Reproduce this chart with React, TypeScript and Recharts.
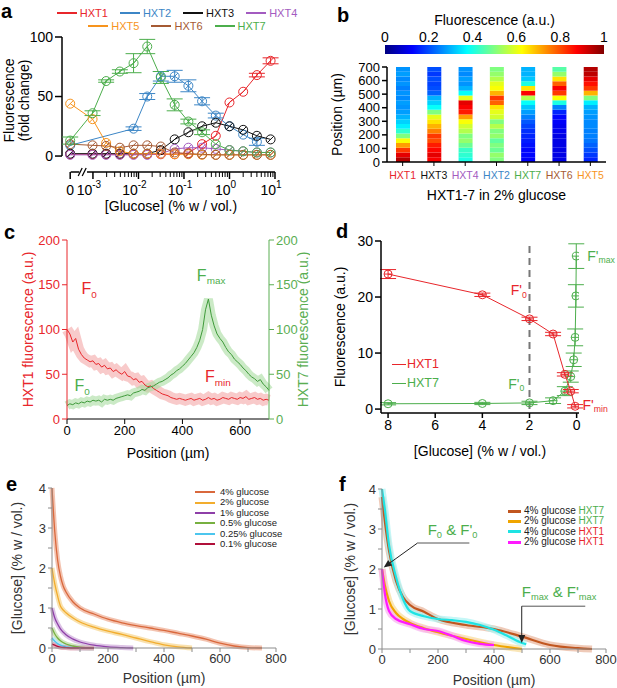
import React from 'react'
import { LineChart, Line, XAxis, YAxis, ReferenceLine, ReferenceDot, ErrorBar, BarChart, Bar, Cell, Label } from 'recharts'

const FONT = '"Liberation Sans", Arial, sans-serif'

// ---------- panel a: fold change vs glucose ----------
const glucoseA = [0, 0.00098, 0.00195, 0.0039, 0.0078, 0.0156, 0.031, 0.0625, 0.125, 0.25, 0.5, 1, 2, 4, 8]
const hxt1A = [1.5, 1.5, 1.5, 1.5, 1.5, 1.5, 1.5, 1.5, 2.5, 10, 17, 45, 54, 68, 80]
const hxt2A = [9, null, null, null, 23, 50, 67, 67, 59, 46, 34, 25, 18, 12, null]
const hxt3A = [2, 2, 2, 2, 2, 2, 5, 14, 20, 25, 28, 25, 22, 17, 14]
const hxt4A = [1, 1, 1, 1, 1, 1, 2, 6, 7, 7, 6, 5, 4, 3, 3]
const hxt5A = [44, 31, 11, 4, 2, 2, 2, 1.5, 1.5, 1, 1, 1, 1, 1, 1]
const hxt6A = [10, 9, 8.5, 7, 9, 9, 8, 3, 2, 1.5, 1, 1, 1, 1, 1]
const hxt7A = [13, 36, 63, 71, 78, 92, 66, 43, 29, 20, 10, 5, 4, 3, 3]
const err1A = [null, null, null, null, null, null, null, null, null, null, null, null, null, 1.5, 2.5]
const err2A = [null, null, null, null, 1.5, 2.5, 4, 5, 5, 3, 2, null, null, 3, null]
const err7A = [3, 2, 1, 1.5, 8, 6, 5, 5, 2, 2, null, null, null, null, null]
const none = glucoseA.map(() => null)

const ZERO_AT = Math.pow(10, -3.5)

const seriesA = [
  { key: 'hxt1', name: 'HXT1', color: '#e8262b', vals: hxt1A, errs: err1A },
  { key: 'hxt2', name: 'HXT2', color: '#3c86c6', vals: hxt2A, errs: err2A },
  { key: 'hxt3', name: 'HXT3', color: '#111111', vals: hxt3A, errs: none },
  { key: 'hxt4', name: 'HXT4', color: '#a35bc0', vals: hxt4A, errs: none },
  { key: 'hxt5', name: 'HXT5', color: '#f7941d', vals: hxt5A, errs: none },
  { key: 'hxt6', name: 'HXT6', color: '#a55a33', vals: hxt6A, errs: none },
  { key: 'hxt7', name: 'HXT7', color: '#4cae4c', vals: hxt7A, errs: err7A },
]

const rowsA = glucoseA.map((g, i) => {
  const row: any = { g: g === 0 ? ZERO_AT : g }
  seriesA.forEach(s => {
    row[s.key] = s.vals[i]
    row[s.key + 'e'] = s.errs[i]
  })
  return row
})

const ticksA = [ZERO_AT]
for (let d = -3; d <= 0; d++) for (let k = 1; k <= 9; k++) ticksA.push(k * Math.pow(10, d))
ticksA.push(10)

// ---------- panel b: heat map, bins of 35 um from bottom to top ----------
const BIN = 35
const hxt1B = [0.95, 0.9, 0.82, 0.72, 0.62, 0.5, 0.42, 0.36, 0.33, 0.3, 0.28, 0.27, 0.28, 0.26, 0.27, 0.25, 0.27, 0.26, 0.28, 0.27]
const hxt3B = [0.88, 0.9, 0.87, 0.85, 0.8, 0.82, 0.75, 0.7, 0.65, 0.6, 0.5, 0.38, 0.33, 0.3, 0.22, 0.2, 0.19, 0.2, 0.18, 0.2]
const hxt4B = [0.4, 0.42, 0.43, 0.48, 0.52, 0.5, 0.55, 0.58, 0.62, 0.72, 0.85, 0.88, 0.9, 0.6, 0.38, 0.3, 0.27, 0.28, 0.26, 0.27]
const hxt2B = [0.5, 0.52, 0.48, 0.5, 0.47, 0.52, 0.5, 0.55, 0.5, 0.58, 0.6, 0.65, 0.78, 0.82, 0.7, 0.62, 0.6, 0.55, 0.52, 0.5]
const hxt7B = [0.12, 0.13, 0.13, 0.14, 0.15, 0.16, 0.17, 0.19, 0.21, 0.25, 0.28, 0.32, 0.38, 0.55, 0.88, 0.65, 0.4, 0.32, 0.3, 0.3]
const hxt6B = [0.1, 0.1, 0.1, 0.1, 0.1, 0.1, 0.11, 0.11, 0.12, 0.13, 0.16, 0.25, 0.4, 0.62, 0.82, 0.88, 0.78, 0.65, 0.52, 0.46]
const hxt5B = [0.16, 0.18, 0.2, 0.22, 0.24, 0.25, 0.25, 0.26, 0.26, 0.27, 0.28, 0.3, 0.36, 0.5, 0.7, 0.82, 0.86, 0.9, 0.94, 0.95]

const heatCols = [
  { name: 'HXT1', color: '#e8262b', vals: hxt1B },
  { name: 'HXT3', color: '#111111', vals: hxt3B },
  { name: 'HXT4', color: '#a35bc0', vals: hxt4B },
  { name: 'HXT2', color: '#3c86c6', vals: hxt2B },
  { name: 'HXT7', color: '#4cae4c', vals: hxt7B },
  { name: 'HXT6', color: '#a55a33', vals: hxt6B },
  { name: 'HXT5', color: '#f7941d', vals: hxt5B },
]
const binKeys = hxt1B.map((_, i) => 'b' + i)
const heatRows = heatCols.map(c => {
  const row: any = { name: c.name }
  binKeys.forEach(k => (row[k] = BIN))
  return row
})

const jet = (v: number) => {
  const c = (t: number) => Math.round(255 * Math.max(0, Math.min(1, t)))
  return `rgb(${c(1.5 - Math.abs(4 * v - 3))},${c(1.5 - Math.abs(4 * v - 2))},${c(1.5 - Math.abs(4 * v - 1))})`
}
const jetStops = [0, 0.125, 0.25, 0.375, 0.5, 0.625, 0.75, 0.875, 1]

// ---------- panel c: profiles along channel ----------
const posC = [0, 10, 20, 30, 40, 50, 60, 70, 80, 90, 100, 110, 120, 130, 140, 150, 160, 170, 180, 190, 200, 210, 220, 230, 240, 250, 260, 270, 280, 290, 300, 310, 320, 330, 340, 350, 360, 370, 380, 390, 400, 410, 420, 430, 440, 450, 460, 470, 480, 490, 500, 510, 520, 530, 540, 550, 560, 570, 580, 590, 600, 610, 620, 630, 640, 650, 660, 670, 680, 690, 700]
const hxt1C = [100, 95, 86, 90, 78, 72, 68, 66, 64, 65, 61, 62, 58, 60, 56, 57, 53, 55, 52, 50, 53, 48, 47, 44, 45, 41, 42, 38, 36, 37, 34, 32, 30, 28, 27, 26, 24, 23, 22, 23, 22, 21, 22, 23, 21, 22, 23, 21, 22, 24, 22, 23, 21, 22, 24, 23, 22, 24, 23, 22, 24, 23, 25, 22, 23, 24, 22, 23, 21, 22, 21]
const hxt7C = [15, 17, 16, 18, 17, 19, 18, 20, 19, 21, 20, 21, 19, 22, 21, 22, 21, 23, 24, 25, 26, 27, 26, 29, 30, 31, 33, 32, 35, 36, 37, 39, 41, 42, 44, 46, 49, 51, 54, 56, 59, 62, 66, 70, 74, 80, 88, 100, 122, 134, 116, 104, 95, 90, 86, 80, 75, 72, 67, 64, 61, 57, 54, 50, 47, 45, 42, 44, 39, 36, 32]
const rowsC = posC.map((p, i) => ({ p, h1: hxt1C[i], h7: hxt7C[i] }))

// ---------- panel d: fluorescence vs glucose ----------
const glucoseD1 = [8, 4, 2, 1, 0.5, 0.25, 0.0625]
const hxt1D = [24.1, 20.4, 16.1, 13.4, 6.2, 3.2, 0.5]
const err1D = [0.8, 0.3, 0.3, 0.3, 0.3, 0.3, 0.3]
const glucoseD7 = [8, 4, 2, 1, 0.5, 0.25, 0.125, 0.0625, 0.031, 0.0156]
const hxt7D = [0.95, 1.0, 1.1, 1.5, 3.2, 5.8, 8.8, 12.8, 20.2, 27.3]
const err7D = [0.2, 0.2, 0.3, 0.5, 0.8, 1, 1.2, 1.5, 2, 2.2]
const rowsD1 = glucoseD1.map((g, i) => ({ g, v: hxt1D[i], e: err1D[i] }))
const rowsD7 = glucoseD7.map((g, i) => ({ g, v: hxt7D[i], e: err7D[i] }))

// ---------- panel e: glucose gradients ----------
const posE4 = [0, 10, 20, 30, 40, 50, 75, 100, 150, 200, 250, 300, 350, 400, 450, 500, 550, 600, 650, 700, 750]
const glu4E = [4.0, 2.9, 2.2, 1.8, 1.55, 1.4, 1.15, 1.0, 0.85, 0.72, 0.63, 0.56, 0.5, 0.44, 0.37, 0.3, 0.22, 0.12, 0.05, 0.01, 0]
const posE2 = [0, 10, 20, 30, 40, 50, 75, 100, 150, 200, 250, 300, 350, 400, 450, 500]
const glu2E = [2.0, 1.6, 1.3, 1.05, 0.95, 0.88, 0.75, 0.65, 0.52, 0.42, 0.34, 0.25, 0.16, 0.08, 0.03, 0]
const posE1 = [0, 10, 20, 30, 50, 75, 100, 150, 200, 250, 290]
const glu1E = [1.0, 0.75, 0.6, 0.48, 0.33, 0.22, 0.15, 0.07, 0.03, 0.01, 0]
const posEs = [0, 10, 20, 30, 50, 75, 100, 150]
const glu05E = [0.5, 0.35, 0.25, 0.18, 0.1, 0.05, 0.02, 0]
const glu025E = [0.25, 0.17, 0.11, 0.07, 0.03, 0.01, 0, 0]
const glu01E = [0.1, 0.07, 0.04, 0.02, 0.01, 0, 0, 0]

const curvesE = [
  { name: '4% glucose', color: '#d9683c', band: '#f0b49c', pos: posE4, vals: glu4E },
  { name: '2% glucose', color: '#f2ad2e', band: '#f8d99a', pos: posE2, vals: glu2E },
  { name: '1% glucose', color: '#8e3fa8', band: '#d3b4de', pos: posE1, vals: glu1E },
  { name: '0.5% glucose', color: '#77b040', band: '#c6e0ac', pos: posEs, vals: glu05E },
  { name: '0.25% glucose', color: '#4cc6ee', band: '#b4e6f8', pos: posEs, vals: glu025E },
  { name: '0.1% glucose', color: '#b0103a', band: '#e0a0b0', pos: posEs, vals: glu01E },
]

// ---------- panel f: glucose at reporter positions ----------
const posF47 = [0, 10, 25, 50, 75, 100, 150, 200, 300, 400, 500, 600, 700, 750]
const gluF47 = [3.8, 3.2, 2.46, 1.7, 1.3, 1.1, 0.93, 0.75, 0.6, 0.5, 0.31, 0.1, 0.02, 0]
const posF27 = [0, 10, 25, 50, 75, 100, 150, 200, 300, 400, 500]
const gluF27 = [2.0, 1.6, 1.2, 0.9, 0.75, 0.65, 0.52, 0.42, 0.25, 0.1, 0]
const posF41 = [0, 10, 25, 50, 75, 100, 150, 200, 250, 300, 350, 400, 450, 500, 515]
const gluF41 = [4.0, 3.5, 2.6, 1.8, 1.25, 0.95, 0.82, 0.75, 0.72, 0.68, 0.6, 0.48, 0.32, 0.15, 0.12]
const posF21 = [0, 10, 25, 50, 100, 150, 200, 250, 300, 350, 400]
const gluF21 = [2.0, 1.4, 0.95, 0.75, 0.62, 0.5, 0.45, 0.33, 0.2, 0.13, 0.1]

const curvesF = [
  { name: '4% glucose', tag: 'HXT7', tagColor: '#4cae4c', color: '#c1561f', band: '#e8b49a', pos: posF47, vals: gluF47 },
  { name: '2% glucose', tag: 'HXT7', tagColor: '#4cae4c', color: '#f0a500', band: '#f8dc99', pos: posF27, vals: gluF27 },
  { name: '4% glucose', tag: 'HXT1', tagColor: '#e8262b', color: '#1ee3e3', band: '#aef3f3', pos: posF41, vals: gluF41 },
  { name: '2% glucose', tag: 'HXT1', tagColor: '#e8262b', color: '#ff1aff', band: '#f8b0f0', pos: posF21, vals: gluF21 },
]

// ---------- helpers ----------
const SlashDot = (color: string) => (p: any) => {
  const { cx, cy, value, index } = p
  if (cx == null || cy == null || value == null) return <g key={'n' + index} />
  return (
    <g key={'d' + index}>
      <circle cx={cx} cy={cy} r={4.5} fill="none" stroke={color} strokeWidth={1} />
      <line x1={cx - 3.2} y1={cy + 3.2} x2={cx + 3.2} y2={cy - 3.2} stroke={color} strokeWidth={1} />
    </g>
  )
}

const OpenDot = (color: string) => (p: any) => {
  const { cx, cy, index } = p
  if (cx == null || cy == null) return <g key={'n' + index} />
  return (
    <g key={'d' + index}>
      <circle cx={cx} cy={cy} r={4} fill="none" stroke={color} strokeWidth={1} />
      <line x1={cx - 4} y1={cy} x2={cx + 4} y2={cy} stroke={color} strokeWidth={1} />
    </g>
  )
}

type Part = { t: string; sub?: boolean }
const richText = (parts: Part[], color: string, size: number, anchor = 'start') => (p: any) => {
  const d = size * 0.3
  let down = false
  return (
    <text x={p.cx} y={p.cy} fill={color} fontSize={size} textAnchor={anchor} dominantBaseline="middle" fontFamily={FONT}>
      {parts.map((pt, i) => {
        let dy = 0
        if (pt.sub && !down) { dy = d; down = true }
        else if (!pt.sub && down) { dy = -d; down = false }
        return (
          <tspan key={i} dy={dy} fontSize={pt.sub ? size * 0.62 : size}>{pt.t}</tspan>
        )
      })}
    </text>
  )
}

const Arrow = (color: string) => (p: any) => {
  const { x1, y1, x2, y2 } = p
  const a = Math.atan2(y2 - y1, x2 - x1)
  const L = 8
  const W = 3.5
  const bx = x2 - L * Math.cos(a)
  const by = y2 - L * Math.sin(a)
  const pts = `${x2},${y2} ${bx - W * Math.sin(a)},${by + W * Math.cos(a)} ${bx + W * Math.sin(a)},${by - W * Math.cos(a)}`
  return (
    <g>
      <line x1={x1} y1={y1} x2={bx} y2={by} stroke={color} strokeWidth={1} />
      <polygon points={pts} fill={color} />
    </g>
  )
}

const LogTick = (p: any) => {
  const { x, y, payload } = p
  const v = payload.value
  if (v === ZERO_AT) {
    return (
      <g>
        <line x1={x} y1={y} x2={x} y2={y + 7} stroke="#000" strokeWidth={1.5} />
        <line x1={x + 8} y1={y + 4} x2={x + 12} y2={y - 4} stroke="#000" strokeWidth={1.2} />
        <line x1={x + 12} y1={y + 4} x2={x + 16} y2={y - 4} stroke="#000" strokeWidth={1.2} />
        <text x={x} y={y + 23} textAnchor="middle" fontSize={14} fill="#000">0</text>
      </g>
    )
  }
  const lg = Math.log10(v)
  const e = Math.round(lg)
  if (Math.abs(lg - e) > 1e-6) {
    return <line x1={x} y1={y} x2={x} y2={y + 5} stroke="#000" strokeWidth={1} />
  }
  return (
    <g>
      <line x1={x} y1={y} x2={x} y2={y + 7} stroke="#000" strokeWidth={1.5} />
      <text x={x - 4} y={y + 23} textAnchor="middle" fontSize={14} fill="#000">
        10<tspan dy={-7} fontSize={10}>{e}</tspan>
      </text>
    </g>
  )
}

const HeatTick = (p: any) => {
  const { x, y, payload } = p
  const col = heatCols.find(c => c.name === payload.value)
  return (
    <text x={x} y={y + 11} textAnchor="middle" fontSize={10.5} fill={col ? col.color : '#000'}>{payload.value}</text>
  )
}

const TwoLineY = (props: any) => {
  const vb = props.viewBox
  const cy = vb.y + vb.height / 2 - 4
  return (
    <g>
      <text transform={`translate(${vb.x - 7},${cy}) rotate(-90)`} textAnchor="middle" dominantBaseline="middle" fontSize={14} fill="#000">Fluorescence</text>
      <text transform={`translate(${vb.x + 8},${cy}) rotate(-90)`} textAnchor="middle" dominantBaseline="middle" fontSize={14} fill="#000">(fold change)</text>
    </g>
  )
}

const Letter = ({ ch, x, y }: { ch: string; x: number; y: number }) => (
  <div style={{ position: 'absolute', left: x, top: y, fontSize: 20, fontWeight: 'bold', lineHeight: '22px' }}>{ch}</div>
)

const abs = (left: number, top: number): React.CSSProperties => ({ position: 'absolute', left, top })

export default function App() {
  const greyAxis = '#8c8c8c'
  return (
    <div style={{ position: 'absolute', left: 0, top: 0, width: 617, height: 688, background: '#fff', fontFamily: FONT, overflow: 'hidden' }}>
      {/* ---------- a ---------- */}
      <div style={abs(0, 0)}>
        <LineChart width={300} height={215} data={rowsA} margin={{ top: 37, right: 20, bottom: 3, left: 17 }}>
          <XAxis dataKey="g" type="number" scale="log" domain={[Math.pow(10, -3.68), Math.pow(10, 1.11)]} allowDataOverflow
            ticks={ticksA} interval={0} tick={LogTick} tickLine={false} axisLine={false} tickSize={0} tickMargin={0} height={40}>
            <Label value="[Glucose] (% w / vol.)" position="insideBottom" offset={1} style={{ fontSize: 14, fill: '#000' }} />
          </XAxis>
          <YAxis type="number" domain={[-13.4, 100]} ticks={[0, 50, 100]} interval={0} width={45} axisLine={false}
            tickLine={{ stroke: '#000', strokeWidth: 1.5 }} tickSize={7} tick={{ fontSize: 14, fill: '#000' }}>
            <Label content={TwoLineY} />
          </YAxis>
          <ReferenceLine segment={[{ x: Math.pow(10, -3.68), y: 0 }, { x: Math.pow(10, -3.68), y: 100 }]} stroke="#000" strokeWidth={1.5} ifOverflow="visible" />
          <ReferenceLine segment={[{ x: Math.pow(10, -3.49), y: -13.4 }, { x: Math.pow(10, -3.3), y: -13.4 }]} stroke="#000" strokeWidth={1.5} ifOverflow="visible" />
          <ReferenceLine segment={[{ x: Math.pow(10, -3.13), y: -13.4 }, { x: 10, y: -13.4 }]} stroke="#000" strokeWidth={1.5} ifOverflow="visible" />
          {seriesA.map(s => (
            <Line key={s.key} dataKey={s.key} stroke={s.color} strokeWidth={1} connectNulls isAnimationActive={false} dot={SlashDot(s.color)}>
              <ErrorBar dataKey={s.key + 'e'} direction="y" width={8} stroke={s.color} strokeWidth={1} />
            </Line>
          ))}
        </LineChart>
        <div style={{ position: 'absolute', left: 52, top: 6, width: 250, fontSize: 11 }}>
          {[seriesA.slice(0, 4), seriesA.slice(4)].map((row, ri) => (
            <div key={ri} style={{ display: 'flex', justifyContent: 'center', gap: 12, height: 13, alignItems: 'center' }}>
              {row.map(s => (
                <div key={s.key} style={{ display: 'flex', alignItems: 'center', color: s.color }}>
                  <div style={{ width: 20, height: 2, background: s.color, marginRight: 3 }} />
                  {s.name}
                </div>
              ))}
            </div>
          ))}
        </div>
      </div>
      <Letter ch="a" x={1} y={0} />

      {/* ---------- b: colour bar ---------- */}
      <div style={abs(300, 10)}>
        <BarChart width={317} height={45} layout="vertical" data={[{ name: 'scale', v: 1 }]} barCategoryGap={0}
          margin={{ top: 5, right: 13, bottom: 1, left: 85 }}>
          <defs>
            <linearGradient id="jetGrad" x1="0" y1="0" x2="1" y2="0">
              {jetStops.map(s => <stop key={s} offset={s} stopColor={jet(s)} />)}
            </linearGradient>
          </defs>
          <XAxis type="number" orientation="top" domain={[0, 1]} ticks={[0, 0.2, 0.4, 0.6, 0.8, 1]} interval={0} height={30}
            axisLine={false} tickLine={false} tickSize={0} tickMargin={3} tick={{ fontSize: 14, fill: '#000' }}>
            <Label value="Fluorescence (a.u.)" position="insideTop" offset={0} style={{ fontSize: 14, fill: '#000' }} />
          </XAxis>
          <YAxis type="category" dataKey="name" hide />
          <Bar dataKey="v" fill="url(#jetGrad)" isAnimationActive={false} />
        </BarChart>
      </div>

      {/* ---------- b: heat map ---------- */}
      <div style={abs(300, 50)}>
        <BarChart width={317} height={155} data={heatRows} margin={{ top: 17, right: 11, bottom: 3, left: 37 }}>
          <XAxis dataKey="name" height={40} tick={HeatTick} tickLine={{ stroke: '#000' }} tickSize={4}
            axisLine={{ stroke: '#000', strokeWidth: 1.5 }} interval={0}>
            <Label value="HXT1-7 in 2% glucose" position="insideBottom" offset={2} style={{ fontSize: 14, fill: '#000' }} />
          </XAxis>
          <YAxis type="number" domain={[0, 700]} ticks={[0, 100, 200, 300, 400, 500, 600, 700]} interval={0} width={50}
            axisLine={{ stroke: '#000', strokeWidth: 1.5 }} tickLine={{ stroke: '#000', strokeWidth: 1.5 }} tickSize={5}
            tick={{ fontSize: 13, fill: '#000' }}>
            <Label value="Position (µm)" angle={-90} position="insideLeft" offset={0} style={{ fontSize: 14, fill: '#000', textAnchor: 'middle' }} />
          </YAxis>
          {binKeys.map((k, i) => (
            <Bar key={k} dataKey={k} stackId="heat" barSize={14} isAnimationActive={false}>
              {heatCols.map(c => <Cell key={c.name} fill={jet(c.vals[i])} />)}
            </Bar>
          ))}
        </BarChart>
      </div>
      <Letter ch="b" x={337} y={4} />

      {/* ---------- c ---------- */}
      <div style={abs(0, 225)}>
        <LineChart width={310} height={240} data={rowsC} margin={{ top: 15, right: 1, bottom: 6, left: 17 }}>
          <XAxis dataKey="p" type="number" domain={[0, 700]} ticks={[0, 200, 400, 600]} interval={0} height={40}
            axisLine={{ stroke: '#000' }} tickLine={{ stroke: '#000' }} tickSize={5} tick={{ fontSize: 13, fill: '#000' }}>
            <Label value="Position (µm)" position="insideBottom" offset={1} style={{ fontSize: 14, fill: '#000' }} />
          </XAxis>
          <YAxis yAxisId="l" domain={[0, 200]} ticks={[0, 50, 100, 150, 200]} interval={0} width={50}
            axisLine={{ stroke: '#e8262b' }} tickLine={{ stroke: '#e8262b' }} tickSize={5} tick={{ fontSize: 13, fill: '#e8262b' }}>
            <Label value="HXT1 fluorescence (a.u.)" angle={-90} position="insideLeft" offset={11} style={{ fontSize: 14, fill: '#e8262b', textAnchor: 'middle' }} />
          </YAxis>
          <YAxis yAxisId="r" orientation="right" domain={[0, 200]} ticks={[0, 50, 100, 150, 200]} interval={0} width={40}
            axisLine={{ stroke: '#5aae52' }} tickLine={{ stroke: '#5aae52' }} tickSize={5} tick={{ fontSize: 13, fill: '#5aae52' }}>
            <Label value="HXT7 fluorescence (a.u.)" angle={-90} position="insideRight" offset={6} style={{ fontSize: 14, fill: '#5aae52', textAnchor: 'middle' }} />
          </YAxis>
          <Line yAxisId="l" dataKey="h1" stroke="#f4a6a6" strokeOpacity={0.6} strokeWidth={11} dot={false} isAnimationActive={false} />
          <Line yAxisId="r" dataKey="h7" stroke="#a8dca0" strokeOpacity={0.6} strokeWidth={9} dot={false} isAnimationActive={false} />
          <Line yAxisId="l" dataKey="h1" stroke="#e8262b" strokeWidth={1} dot={false} isAnimationActive={false} />
          <Line yAxisId="r" dataKey="h7" stroke="#3f9a3a" strokeWidth={1} dot={false} isAnimationActive={false} />
          <ReferenceDot yAxisId="l" x={50} y={144} r={0} ifOverflow="visible" shape={richText([{ t: 'F' }, { t: '0', sub: true }], '#e8262b', 16)} />
          <ReferenceDot yAxisId="l" x={478} y={46} r={0} ifOverflow="visible" shape={richText([{ t: 'F' }, { t: 'min', sub: true }], '#e8262b', 16)} />
          <ReferenceDot yAxisId="r" x={450} y={159} r={0} ifOverflow="visible" shape={richText([{ t: 'F' }, { t: 'max', sub: true }], '#4cae4c', 16)} />
          <ReferenceDot yAxisId="r" x={26} y={36} r={0} ifOverflow="visible" shape={richText([{ t: 'F' }, { t: '0', sub: true }], '#4cae4c', 16)} />
        </LineChart>
      </div>
      <Letter ch="c" x={4} y={221} />

      {/* ---------- d ---------- */}
      <div style={abs(300, 225)}>
        <LineChart width={317} height={240} margin={{ top: 16, right: 38, bottom: 12, left: 36 }}>
          <XAxis dataKey="g" type="number" reversed domain={[-0.1, 8.3]} ticks={[0, 2, 4, 6, 8]} interval={0} height={40}
            axisLine={{ stroke: '#000', strokeWidth: 1.5 }} tickLine={{ stroke: '#000', strokeWidth: 1.5 }} tickSize={5}
            tick={{ fontSize: 14, fill: '#000' }} allowDataOverflow>
            <Label value="[Glucose] (% w / vol.)" position="insideBottom" offset={-3} style={{ fontSize: 14, fill: '#000' }} />
          </XAxis>
          <YAxis type="number" domain={[-0.7, 30]} ticks={[0, 10, 20, 30]} interval={0} width={45}
            axisLine={{ stroke: '#000', strokeWidth: 1.5 }} tickLine={{ stroke: '#000', strokeWidth: 1.5 }} tickSize={6}
            tick={{ fontSize: 14, fill: '#000' }}>
            <Label value="Fluorescence (a.u.)" angle={-90} position="insideLeft" offset={4} style={{ fontSize: 14, fill: '#000', textAnchor: 'middle' }} />
          </YAxis>
          <ReferenceLine segment={[{ x: 2, y: 0 }, { x: 2, y: 30 }]} stroke="#777" strokeWidth={2} strokeDasharray="7 5" />
          <Line data={rowsD7} dataKey="v" stroke="#4cae4c" strokeWidth={1} dot={OpenDot('#4cae4c')} isAnimationActive={false}>
            <ErrorBar dataKey="e" direction="y" width={8} stroke="#4cae4c" strokeWidth={1} />
          </Line>
          <Line data={rowsD1} dataKey="v" stroke="#e8262b" strokeWidth={1} dot={OpenDot('#e8262b')} isAnimationActive={false}>
            <ErrorBar dataKey="e" direction="y" width={8} stroke="#e8262b" strokeWidth={1} />
          </Line>
          <ReferenceDot x={2.8} y={21} r={0} ifOverflow="visible" shape={richText([{ t: "F'" }, { t: '0', sub: true }], '#e8262b', 14)} />
          <ReferenceDot x={2.9} y={4.3} r={0} ifOverflow="visible" shape={richText([{ t: "F'" }, { t: '0', sub: true }], '#4cae4c', 14)} />
          <ReferenceDot x={-0.45} y={27.2} r={0} ifOverflow="visible" shape={richText([{ t: "F'" }, { t: 'max', sub: true }], '#4cae4c', 14)} />
          <ReferenceDot x={-0.25} y={0.6} r={0} ifOverflow="visible" shape={richText([{ t: "F'" }, { t: 'min', sub: true }], '#e8262b', 14)} />
        </LineChart>
        <div style={{ position: 'absolute', left: 92, top: 130, fontSize: 12.5, lineHeight: '19px' }}>
          {[{ n: 'HXT1', c: '#e8262b' }, { n: 'HXT7', c: '#4cae4c' }].map(s => (
            <div key={s.n} style={{ display: 'flex', alignItems: 'center', color: s.c }}>
              <div style={{ width: 14, height: 1.5, background: s.c, marginRight: 1 }} />
              {s.n}
            </div>
          ))}
        </div>
      </div>
      <Letter ch="d" x={336} y={220} />

      {/* ---------- e ---------- */}
      <div style={abs(0, 470)}>
        <LineChart width={310} height={218} margin={{ top: 18, right: 34, bottom: 4, left: 12 }}>
          <XAxis dataKey="x" type="number" domain={[0, 800]} ticks={[0, 100, 200, 300, 400, 500, 600, 700, 800]} interval={0}
            tickFormatter={(v: number) => (v % 200 === 0 ? String(v) : '')} height={36}
            axisLine={{ stroke: greyAxis }} tickLine={{ stroke: greyAxis }} tickSize={4} tick={{ fontSize: 13, fill: '#333' }}>
            <Label value="Position (µm)" position="insideBottom" offset={1} style={{ fontSize: 14, fill: '#333' }} />
          </XAxis>
          <YAxis type="number" domain={[0, 4]} ticks={[0, 0.5, 1, 1.5, 2, 2.5, 3, 3.5, 4]} interval={0}
            tickFormatter={(v: number) => (Number.isInteger(v) ? String(v) : '')} width={40}
            axisLine={{ stroke: greyAxis }} tickLine={{ stroke: greyAxis }} tickSize={4} tick={{ fontSize: 13, fill: '#333' }}>
            <Label value="[Glucose] (% w / vol.)" angle={-90} position="insideLeft" offset={5} style={{ fontSize: 14, fill: '#333', textAnchor: 'middle' }} />
          </YAxis>
          {curvesE.map(c => (
            <Line key={c.name + 'band'} data={c.pos.map((x, i) => ({ x, y: c.vals[i] }))} dataKey="y" type="monotone"
              stroke={c.band} strokeWidth={5} strokeOpacity={0.8} dot={false} isAnimationActive={false} />
          ))}
          {curvesE.map(c => (
            <Line key={c.name} data={c.pos.map((x, i) => ({ x, y: c.vals[i] }))} dataKey="y" type="monotone"
              stroke={c.color} strokeWidth={1.3} dot={false} isAnimationActive={false} />
          ))}
        </LineChart>
        <div style={{ position: 'absolute', left: 195, top: 17, fontSize: 9.5, lineHeight: '10.4px', color: '#222' }}>
          {curvesE.map(c => (
            <div key={c.name} style={{ display: 'flex', alignItems: 'center', height: 10.4 }}>
              <div style={{ width: 20, height: 2, background: c.color, marginRight: 5 }} />
              {c.name}
            </div>
          ))}
        </div>
      </div>
      <Letter ch="e" x={6} y={473} />

      {/* ---------- f ---------- */}
      <div style={abs(310, 470)}>
        <LineChart width={307} height={218} margin={{ top: 19, right: 11, bottom: 3, left: 32 }}>
          <XAxis dataKey="x" type="number" domain={[0, 800]} ticks={[0, 100, 200, 300, 400, 500, 600, 700, 800]} interval={0}
            tickFormatter={(v: number) => (v % 200 === 0 ? String(v) : '')} height={36}
            axisLine={{ stroke: greyAxis }} tickLine={{ stroke: greyAxis }} tickSize={4} tick={{ fontSize: 13, fill: '#333' }}>
            <Label value="Position (µm)" position="insideBottom" offset={0} style={{ fontSize: 14, fill: '#333' }} />
          </XAxis>
          <YAxis type="number" domain={[0, 4]} ticks={[0, 0.5, 1, 1.5, 2, 2.5, 3, 3.5, 4]} interval={0}
            tickFormatter={(v: number) => (Number.isInteger(v) ? String(v) : '')} width={40}
            axisLine={{ stroke: greyAxis }} tickLine={{ stroke: greyAxis }} tickSize={4} tick={{ fontSize: 13, fill: '#333' }}>
            <Label value="[Glucose] (% w / vol.)" angle={-90} position="insideLeft" offset={8} style={{ fontSize: 14, fill: '#333', textAnchor: 'middle' }} />
          </YAxis>
          {curvesF.map((c, i) => (
            <Line key={'band' + i} data={c.pos.map((x, j) => ({ x, y: c.vals[j] }))} dataKey="y" type="monotone"
              stroke={c.band} strokeWidth={7} strokeOpacity={0.7} dot={false} isAnimationActive={false} />
          ))}
          {curvesF.map((c, i) => (
            <Line key={'line' + i} data={c.pos.map((x, j) => ({ x, y: c.vals[j] }))} dataKey="y" type="monotone"
              stroke={c.color} strokeWidth={2.2} dot={false} isAnimationActive={false} />
          ))}
          <ReferenceLine segment={[{ x: 127, y: 2.65 }, { x: 312, y: 2.65 }]} stroke="#555" strokeWidth={1} />
          <ReferenceLine segment={[{ x: 127, y: 2.65 }, { x: 6, y: 2.04 }]} shape={Arrow('#222')} />
          <ReferenceLine segment={[{ x: 499, y: 1.07 }, { x: 726, y: 1.07 }]} stroke="#555" strokeWidth={1} />
          <ReferenceLine segment={[{ x: 499, y: 1.07 }, { x: 499, y: 0.15 }]} shape={Arrow('#222')} />
          <ReferenceDot x={163} y={2.95} r={0} ifOverflow="visible"
            shape={richText([{ t: 'F' }, { t: '0', sub: true }, { t: " & F'" }, { t: '0', sub: true }], '#4cae4c', 15)} />
          <ReferenceDot x={499} y={1.4} r={0} ifOverflow="visible"
            shape={richText([{ t: 'F' }, { t: 'max', sub: true }, { t: " & F'" }, { t: 'max', sub: true }], '#4cae4c', 15)} />
        </LineChart>
        <div style={{ position: 'absolute', left: 198, top: 36, fontSize: 10, lineHeight: '10.4px', color: '#222', whiteSpace: 'nowrap' }}>
          {curvesF.map((c, i) => (
            <div key={i} style={{ display: 'flex', alignItems: 'center', height: 10.4 }}>
              <div style={{ width: 13, height: 3, background: c.color, marginRight: 3 }} />
              {c.name}&nbsp;<span style={{ color: c.tagColor }}>{c.tag}</span>
            </div>
          ))}
        </div>
      </div>
      <Letter ch="f" x={339} y={473} />
    </div>
  )
}
